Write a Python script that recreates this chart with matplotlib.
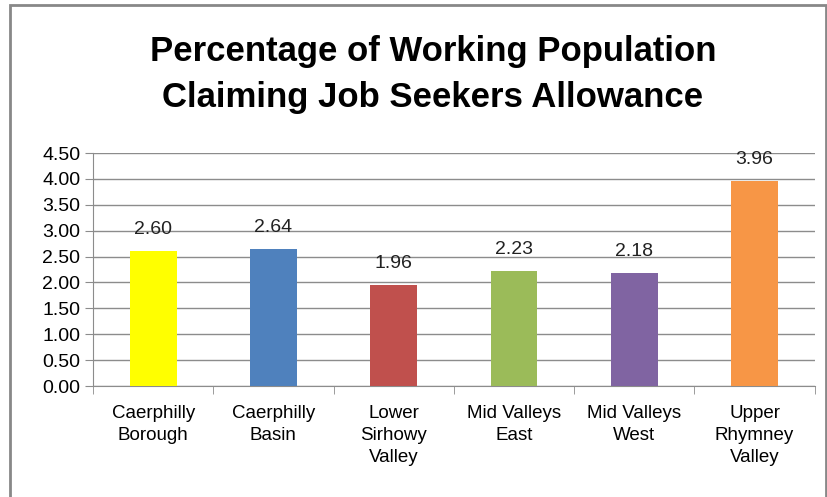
import matplotlib.pyplot as plt
from matplotlib.patches import Rectangle
from matplotlib.ticker import FixedLocator

areas = ['Caerphilly\nBorough', 'Caerphilly\nBasin', 'Lower\nSirhowy\nValley',
         'Mid Valleys\nEast', 'Mid Valleys\nWest', 'Upper\nRhymney\nValley']
values = [2.60, 2.64, 1.96, 2.23, 2.18, 3.96]
colors = ['#FFFF00', '#4F81BD', '#C0504D', '#9BBB59', '#8064A2', '#F79646']
yticks = [0.0, 0.5, 1.0, 1.5, 2.0, 2.5, 3.0, 3.5, 4.0, 4.5]

plt.rcParams['font.family'] = ['Liberation Sans', 'DejaVu Sans']

fig = plt.figure(figsize=(8.28, 4.97), dpi=100)
ax = fig.add_axes([0.1123, 0.2233, 0.8717, 0.4687])

x = range(len(values))
bars = ax.bar(x, values, width=0.39, color=colors, zorder=3)
for b, v in zip(bars, values):
    ax.text(b.get_x() + b.get_width() / 2, v + 0.25, '%.2f' % v,
            ha='center', va='bottom', fontsize=14, color='#222222')

ax.set_xlim(-0.5, len(values) - 0.5)
ax.set_ylim(0, 4.5)
ax.set_yticks(yticks)
ax.set_yticklabels(['%.2f' % t for t in yticks], fontsize=14)
ax.yaxis.grid(True, color='#8C8C8C', linewidth=1, zorder=0)
ax.tick_params(axis='y', length=6, color='#8C8C8C', pad=3)

ax.set_xticks(list(x))
ax.set_xticklabels(areas, fontsize=13.5, linespacing=1.35)
ax.tick_params(axis='x', length=0, pad=14)
ax.xaxis.set_minor_locator(FixedLocator([i - 0.5 for i in range(len(values) + 1)]))
ax.tick_params(axis='x', which='minor', length=6, color='#8C8C8C')

for s in ['top', 'right']:
    ax.spines[s].set_visible(False)
for s in ['left', 'bottom']:
    ax.spines[s].set_color('#8C8C8C')

fig.text(0.523, 0.851, 'Percentage of Working Population\nClaiming Job Seekers Allowance',
         ha='center', va='center', fontsize=25, fontweight='bold',
         linespacing=1.5)

fig.patches.append(Rectangle((10 / 828, -0.05), (826 - 10) / 828, 1.05 - 5 / 497,
                             transform=fig.transFigure, fill=False,
                             edgecolor='#888888', linewidth=2))

fig.savefig('out.png', dpi=100)
